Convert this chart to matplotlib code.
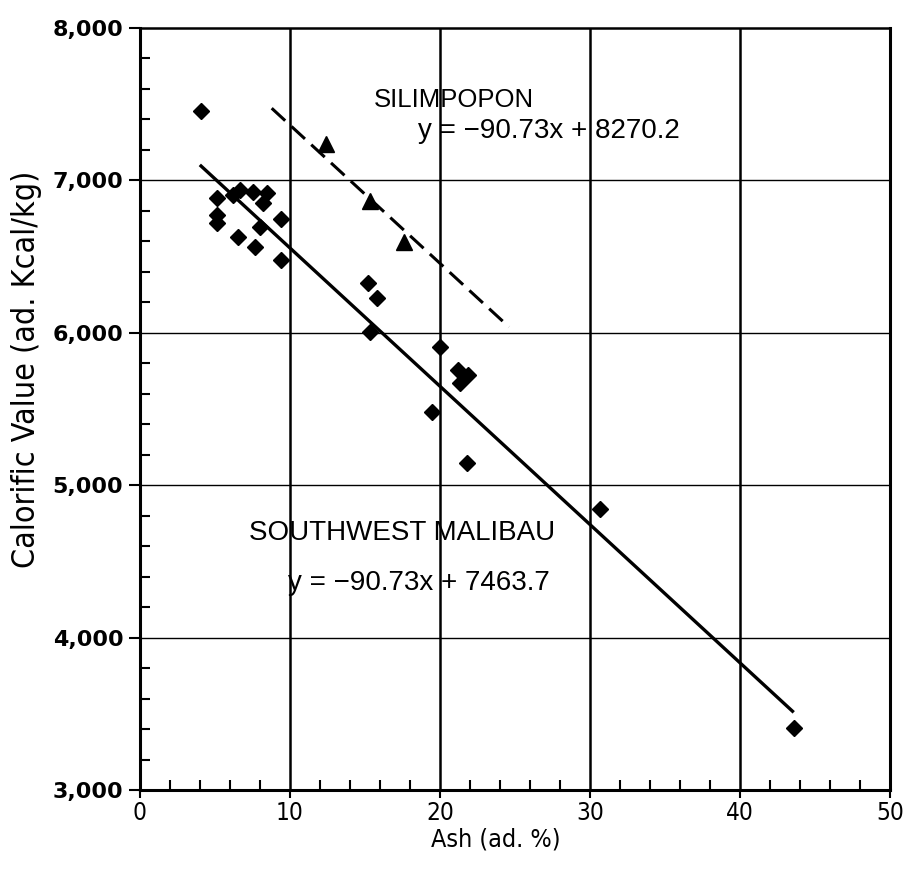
import matplotlib
matplotlib.use("Agg")
import matplotlib.pyplot as plt
from matplotlib import font_manager
import numpy as np
from matplotlib.ticker import MultipleLocator, FuncFormatter

# ---- data ----
malibau_ash = [4.07, 5.11, 5.11, 5.11, 6.22, 6.67, 7.55, 8.45, 8.22, 6.55, 7.67, 8.0, 9.4, 9.4,
               15.22, 15.78, 15.33, 20.0, 21.22, 21.89, 21.33, 19.45, 21.78, 30.67, 43.6]
malibau_cv = [7455, 6883, 6773, 6722, 6904, 6937, 6926, 6915, 6850, 6631, 6565, 6696, 6745, 6478,
              6325, 6226, 6007, 5909, 5756, 5723, 5669, 5482, 5148, 4844, 3407]

silim_ash = [12.4, 15.3, 17.6]
silim_cv = [7240, 6868, 6597]

slope = -90.73
malibau_intercept = 7463.7
silim_intercept = 8270.2
malibau_fit_range = [4.07, 43.5]
silim_fit_range = [8.78, 24.6]

x_ticks = [0, 10, 20, 30, 40, 50]
y_ticks = [3000, 4000, 5000, 6000, 7000, 8000]

names = {f.name for f in font_manager.fontManager.ttflist}
if 'Liberation Sans Narrow' in names:
    narrow_kw = dict(family=['Liberation Sans Narrow', 'DejaVu Sans'])
else:
    narrow_kw = dict(family=['DejaVu Sans'], stretch='condensed')

fig = plt.figure(figsize=(9.18, 8.76), dpi=100)
ax = fig.add_axes([140/918, 86/876, 750/918, 762/876])

# grid
for xv in x_ticks[1:-1]:
    ax.axvline(xv, color='black', lw=1.8, zorder=1)
for yv in y_ticks[1:-1]:
    ax.axhline(yv, color='black', lw=1.0, zorder=1)

# fit lines
mx = np.array(malibau_fit_range)
ax.plot(mx, slope * mx + malibau_intercept, color='black', lw=2.4, zorder=2)
sx = np.array(silim_fit_range)
ln, = ax.plot(sx, slope * sx + silim_intercept, color='black', lw=2.2, zorder=2)
ln.set_dashes([6, 2.8])

# points
ax.plot(malibau_ash, malibau_cv, linestyle='none', marker='D', ms=7.8,
        color='black', zorder=3)
ax.plot(silim_ash, silim_cv, linestyle='none', marker='^', ms=11,
        color='black', zorder=3)

ax.set_xlim(0, 50)
ax.set_ylim(3000, 8000)
ax.set_xticks(x_ticks)
ax.set_yticks(y_ticks)
ax.xaxis.set_minor_locator(MultipleLocator(2))
ax.yaxis.set_minor_locator(MultipleLocator(200))
ax.yaxis.set_major_formatter(FuncFormatter(lambda v, p: f"{int(v):,}"))

ax.tick_params(axis='x', which='major', direction='out', length=6, width=1.5,
               pad=2, labelsize=17.5)
ax.tick_params(axis='x', which='minor', direction='in', length=7, width=1.5)
ax.tick_params(axis='y', which='major', direction='out', length=8, width=1.5,
               pad=4, labelsize=16)
ax.tick_params(axis='y', which='minor', direction='in', length=7, width=1.5)
for lab in ax.get_xticklabels():
    lab.set(**narrow_kw)
for lab in ax.get_yticklabels():
    lab.set_family('DejaVu Sans')
    lab.set_fontweight('bold')

for side in ['left', 'bottom', 'right', 'top']:
    ax.spines[side].set_linewidth(2.2)
ax.spines['top'].set_linewidth(1.8)

ax.set_xlabel('Ash (ad. %)', fontsize=18, **narrow_kw)
ax.xaxis.set_label_coords((496 - 140) / 750, (790 - 839) / 762)
ax.xaxis.label.set_va('center')
ax.set_ylabel('Calorific Value (ad. Kcal/kg)', fontsize=23, **narrow_kw)
ax.yaxis.set_label_coords((27 - 140) / 750, (790 - 369) / 762)
ax.yaxis.label.set_va('center')

txt_kw = dict(family=['Liberation Sans', 'DejaVu Sans'], ha='left', va='center')
ax.text(15.6, 7526, 'SILIMPOPON', fontsize=18.5, **txt_kw)
ax.text(18.5, 7322, 'y = \u221290.73x + 8270.2', fontsize=20, **txt_kw)
ax.text(7.25, 4689, 'SOUTHWEST MALIBAU', fontsize=20, **txt_kw)
ax.text(9.9, 4358, 'y = \u221290.73x + 7463.7', fontsize=20, **txt_kw)

fig.savefig('out.png', dpi=100, facecolor='white')
